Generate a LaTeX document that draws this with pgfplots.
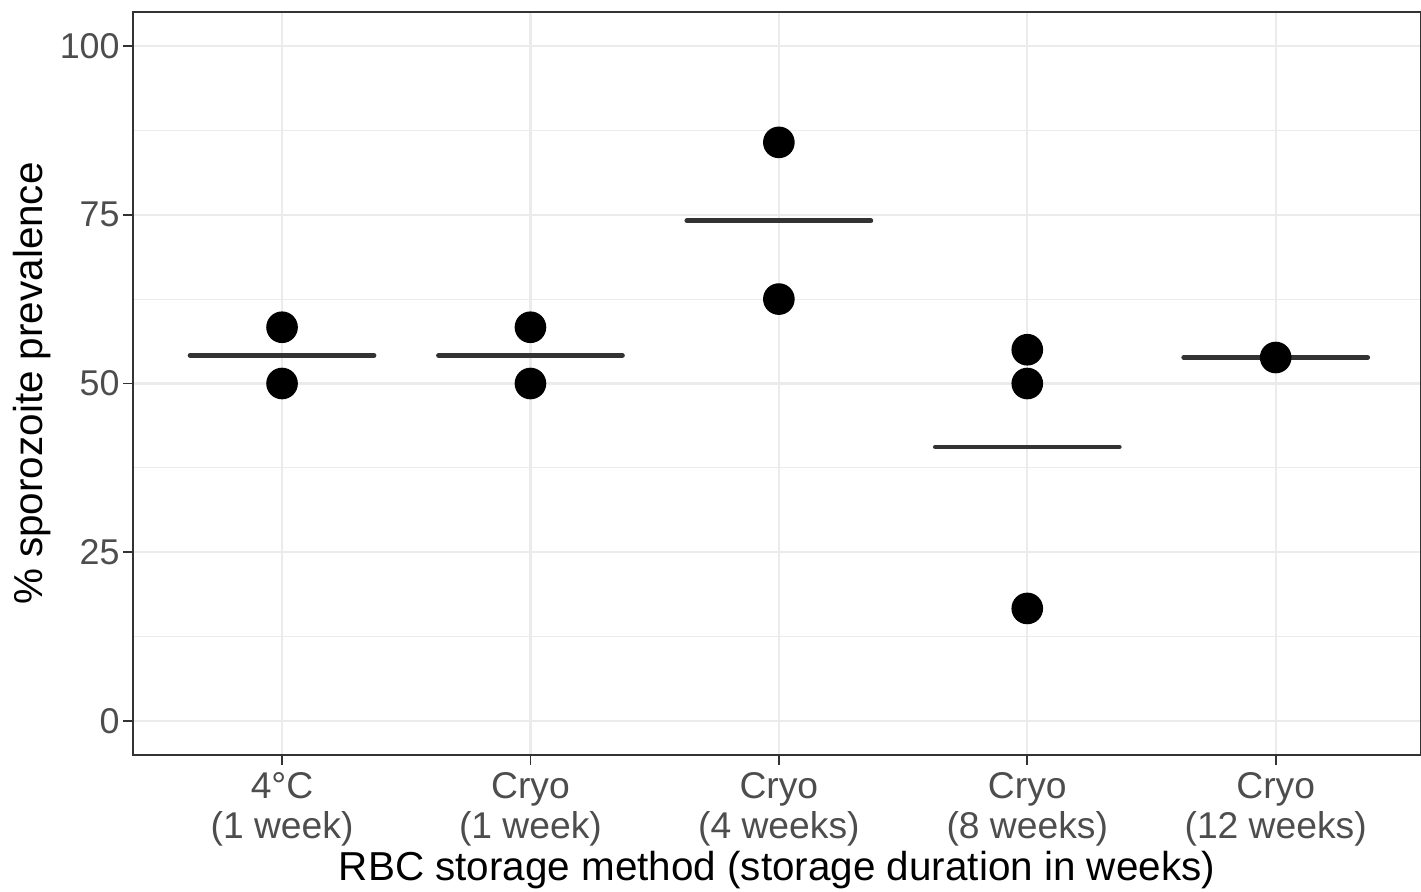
\documentclass[border=0pt]{standalone}
\usepackage{pgfplots}
\pgfplotsset{compat=1.18}
\usepackage{fontspec}
\setmainfont{Liberation Sans}
\definecolor{gridgray}{HTML}{EBEBEB}
\definecolor{ticktxt}{HTML}{4D4D4D}
\definecolor{meanline}{HTML}{333333}

\begin{document}
\begin{tikzpicture}
\begin{axis}[
  scale only axis,
  width=128.8mm, height=74.3mm,
  xmin=0.4, xmax=5.585,
  ymin=-5, ymax=105,
  xtick={1,2,3,4,5},
  xticklabels={{4°C\\(1 week)},{Cryo\\(1 week)},{Cryo\\(4 weeks)},{Cryo\\(8 weeks)},{Cryo\\(12 weeks)}},
  xticklabel style={align=center, font=\fontsize{10.6}{11.3}\selectfont, text=ticktxt, yshift=0.5mm},
  ytick={0,25,50,75,100},
  minor ytick={12.5,37.5,62.5,87.5},
  yticklabel style={font=\fontsize{10.2}{12}\selectfont, text=ticktxt, xshift=0.9mm},
  /pgf/number format/assume math mode=true,
  grid=both,
  major grid style={gridgray, line width=0.6pt},
  minor grid style={gridgray, line width=0.3pt},
  tick align=outside,
  major tick length=1mm,
  minor tick length=0pt,
  tick style={meanline, line width=0.5pt},
  xtick pos=bottom, ytick pos=left,
  axis line style={meanline, line width=0.5pt},
  xlabel={RBC storage method (storage duration in weeks)},
  ylabel={\% sporozoite prevalence},
  label style={font=\fontsize{11.5}{13}\selectfont},
  xlabel style={yshift=1.9mm},
  ylabel style={yshift=-1.5mm},
]
% mean lines
\addplot[meanline, line width=1.4pt, line cap=round] coordinates {(0.63,54.17) (1.37,54.17)};
\addplot[meanline, line width=1.4pt, line cap=round] coordinates {(1.63,54.17) (2.37,54.17)};
\addplot[meanline, line width=1.4pt, line cap=round] coordinates {(2.63,74.1) (3.37,74.1)};
\addplot[meanline, line width=1.4pt, line cap=round] coordinates {(3.63,40.6) (4.37,40.6)};
\addplot[meanline, line width=1.4pt, line cap=round] coordinates {(4.63,53.85) (5.37,53.85)};
% individual values
\addplot[only marks, mark=*, mark size=4.3pt, black] coordinates {
  (1,58.33) (1,50)
  (2,58.33) (2,50)
  (3,85.7) (3,62.5)
  (4,55) (4,50) (4,16.7)
  (5,53.85)
};
\end{axis}
\pgfresetboundingbox
\path[use as bounding box] (-13.3mm,-13.6mm) rectangle (128.8mm,75.5mm);
\end{tikzpicture}
\end{document}
